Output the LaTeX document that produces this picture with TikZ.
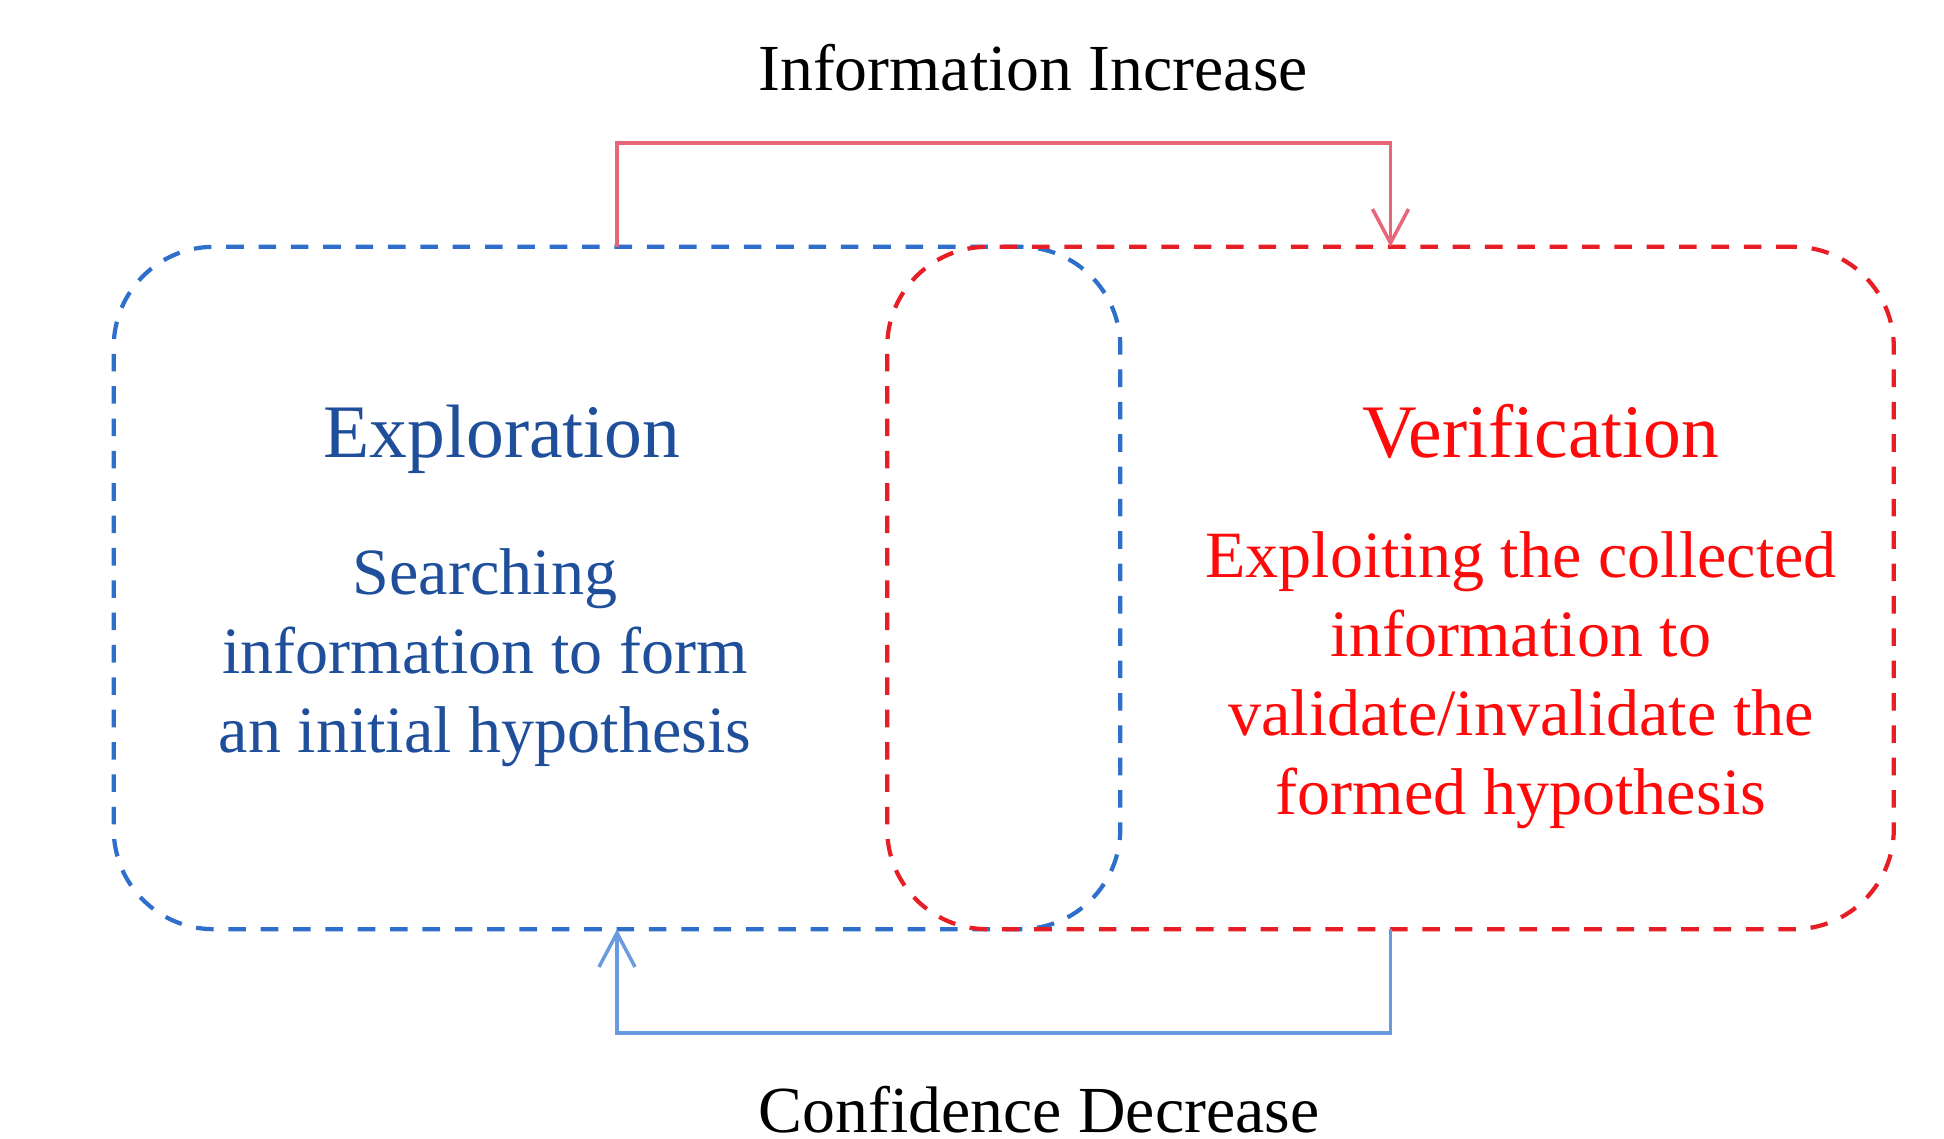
\documentclass[tikz,border=0pt]{standalone}
\usepackage{fontspec}
\setmainfont{Liberation Serif}
\usetikzlibrary{arrows.meta, positioning}
\definecolor{exblue}{HTML}{1F4E9A}
\definecolor{exdash}{HTML}{2F6FCC}
\definecolor{vered}{HTML}{FF0A0A}
\definecolor{vedash}{HTML}{E81E26}
\definecolor{incred}{HTML}{E8667A}
\definecolor{decblue}{HTML}{6A9BE0}
\tikzset{
  phase/.style={rectangle, rounded corners=1cm, line width=1.2pt,
                dash pattern=on 5pt off 4.2pt, inner sep=0pt, outer sep=0pt,
                minimum width=10.06cm, minimum height=6.82cm},
  title/.style={font=\fontsize{21.5}{26}\selectfont, inner sep=0pt, anchor=base},
  body/.style={font=\fontsize{18.8}{22.5}\selectfont, align=center, inner sep=0pt},
  flowlbl/.style={font=\fontsize{18.7}{22}\selectfont, text=black, inner sep=0pt},
  flow/.style={-{Straight Barb[length=0.34cm, width=0.36cm, line width=1pt]}, line width=1pt},
}
\begin{document}
\begin{tikzpicture}[x=0.01cm, y=-0.01cm]
  \useasboundingbox (0,0) rectangle (1944,1139);
  % the two phases
  \node[phase, draw=exdash] (explore) at (617,588) {};
  \node[phase, draw=vedash] (verify) at (1390.5,588) {};
  \node[title, text=exblue] (exptitle) at (502,457) {Exploration};
  \node[body, text=exblue] (expbody) at (485,658) {Searching\\information to form\\an initial hypothesis};
  \node[title, text=vered] (vertitle) at (1541,457) {Verification};
  \node[body, text=vered] (verbody) at (1521,680) {Exploiting the collected\\information to\\validate/invalidate the\\formed hypothesis};
  % feedback loops
  \coordinate (incL) at (617,143);
  \coordinate (incR) at (1390.5,143);
  \coordinate (decL) at (617,1033);
  \coordinate (decR) at (1390.5,1033);
  \draw[flow, draw=incred] (explore.north) -- (incL) -- (incR) -- (verify.north);
  \draw[flow, draw=decblue] (verify.south) -- (decR) -- (decL) -- (explore.south);
  \node[flowlbl] (inclbl) at (1033,68) {Information Increase};
  \node[flowlbl] (declbl) at (1039,1110) {Confidence Decrease};
\end{tikzpicture}
\end{document}
